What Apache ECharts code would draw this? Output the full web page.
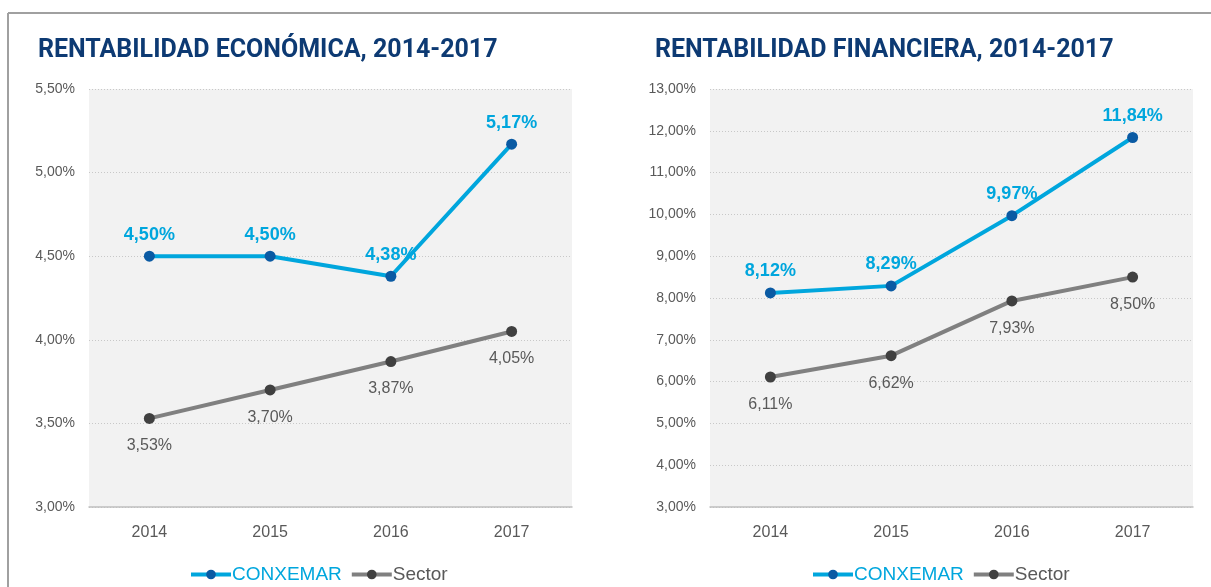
<!DOCTYPE html>
<html>
<head>
<meta charset="utf-8">
<script src="https://cdn.jsdelivr.net/npm/echarts@6/dist/echarts.min.js"></script>
<style>
  html, body { margin: 0; padding: 0; background: #fff; }
  #main { width: 1211px; height: 587px; }
</style>
</head>
<body>
<div id="main"></div>
<script>
var years = ['2014', '2015', '2016', '2017'];
var economicaConxemar = [4.50, 4.50, 4.38, 5.17];
var economicaSector = [3.53, 3.70, 3.87, 4.05];
var financieraConxemar = [8.12, 8.29, 9.97, 11.84];
var financieraSector = [6.11, 6.62, 7.93, 8.50];

var BLUE = '#00a6dd';
var DARK_BLUE = '#0a5aa3';
var GREY = '#808080';
var DARK_GREY = '#404040';
var TEXT = '#595959';

var chartDom = document.getElementById('main');
var myChart = echarts.init(chartDom);

function pct(v) {
  return v.toFixed(2).replace('.', ',') + '%';
}

function xAxis(idx) {
  return {
    type: 'category',
    gridIndex: idx,
    data: years,
    axisLine: { lineStyle: { color: '#bfbfbf', width: 1.5 } },
    axisTick: { inside: true, length: 6, lineStyle: { color: '#bfbfbf', width: 1.5 } },
    axisLabel: { color: TEXT, fontSize: 16, fontFamily: 'Liberation Sans', margin: 18 }
  };
}

function yAxis(idx, min, max, step) {
  return {
    type: 'value',
    gridIndex: idx,
    min: min,
    max: max,
    interval: step,
    axisLine: { show: false },
    axisTick: { show: false },
    splitLine: { lineStyle: { color: '#c8c8c8', type: [1, 2] } },
    axisLabel: {
      color: TEXT, fontSize: 14, fontFamily: 'Liberation Sans', margin: 14,
      formatter: function (v) { return pct(v); }
    }
  };
}

function lineSeries(name, idx, data, isMain) {
  return {
    name: name,
    type: 'line',
    xAxisIndex: idx,
    yAxisIndex: idx,
    data: data,
    symbol: 'circle',
    symbolSize: 11,
    lineStyle: { color: isMain ? BLUE : GREY, width: 4 },
    itemStyle: { color: isMain ? DARK_BLUE : DARK_GREY },
    z: isMain ? 3 : 2,
    label: {
      show: true,
      position: isMain ? 'top' : 'bottom',
      distance: isMain ? 7 : 14,
      color: isMain ? BLUE : TEXT,
      fontSize: isMain ? 18 : 16,
      fontWeight: isMain ? 'bold' : 'normal',
      fontFamily: 'Liberation Sans',
      formatter: function (p) { return pct(p.value); }
    }
  };
}

function legend(center) {
  return {
    left: center,
    top: 560,
    itemWidth: 40,
    itemHeight: 12,
    itemGap: 8,
    lineStyle: { width: 4 },
    data: [
      { name: 'CONXEMAR', textStyle: { color: BLUE, fontSize: 19, fontFamily: 'Liberation Sans' } },
      { name: 'Sector', textStyle: { color: TEXT, fontSize: 19, fontFamily: 'Liberation Sans' } }
    ],
    textStyle: { padding: [0, 0, 0, -4] }
  };
}

var titleStyle = {
  color: '#0d3a73', fontSize: 25, fontWeight: 'bold', fontFamily: 'Roboto'
};

var option = {
  animation: false,
  backgroundColor: '#ffffff',
  title: [
    { text: 'RENTABILIDAD ECONÓMICA, 2014-2017', left: 33, top: 33, textStyle: titleStyle },
    { text: 'RENTABILIDAD FINANCIERA, 2014-2017', left: 650, top: 33, textStyle: titleStyle }
  ],
  graphic: [
    { type: 'line', shape: { x1: 8, y1: 13, x2: 1211, y2: 13 }, style: { stroke: '#a0a0a0', lineWidth: 2 } },
    { type: 'line', shape: { x1: 8, y1: 13, x2: 8, y2: 587 }, style: { stroke: '#a0a0a0', lineWidth: 2 } }
  ],
  legend: [
    Object.assign(legend(184), { seriesIndex: [0, 1] }),
    Object.assign(legend(806), { seriesIndex: [2, 3] })
  ],
  grid: [
    { left: 89, top: 89, width: 483, height: 418, show: true, backgroundColor: '#f2f2f2', borderWidth: 0 },
    { left: 710, top: 89, width: 483, height: 418, show: true, backgroundColor: '#f2f2f2', borderWidth: 0 }
  ],
  xAxis: [xAxis(0), xAxis(1)],
  yAxis: [yAxis(0, 3, 5.5, 0.5), yAxis(1, 3, 13, 1)],
  series: [
    lineSeries('CONXEMAR', 0, economicaConxemar, true),
    lineSeries('Sector', 0, economicaSector, false),
    lineSeries('CONXEMAR', 1, financieraConxemar, true),
    lineSeries('Sector', 1, financieraSector, false)
  ]
};

option && myChart.setOption(option);
</script>
</body>
</html>
